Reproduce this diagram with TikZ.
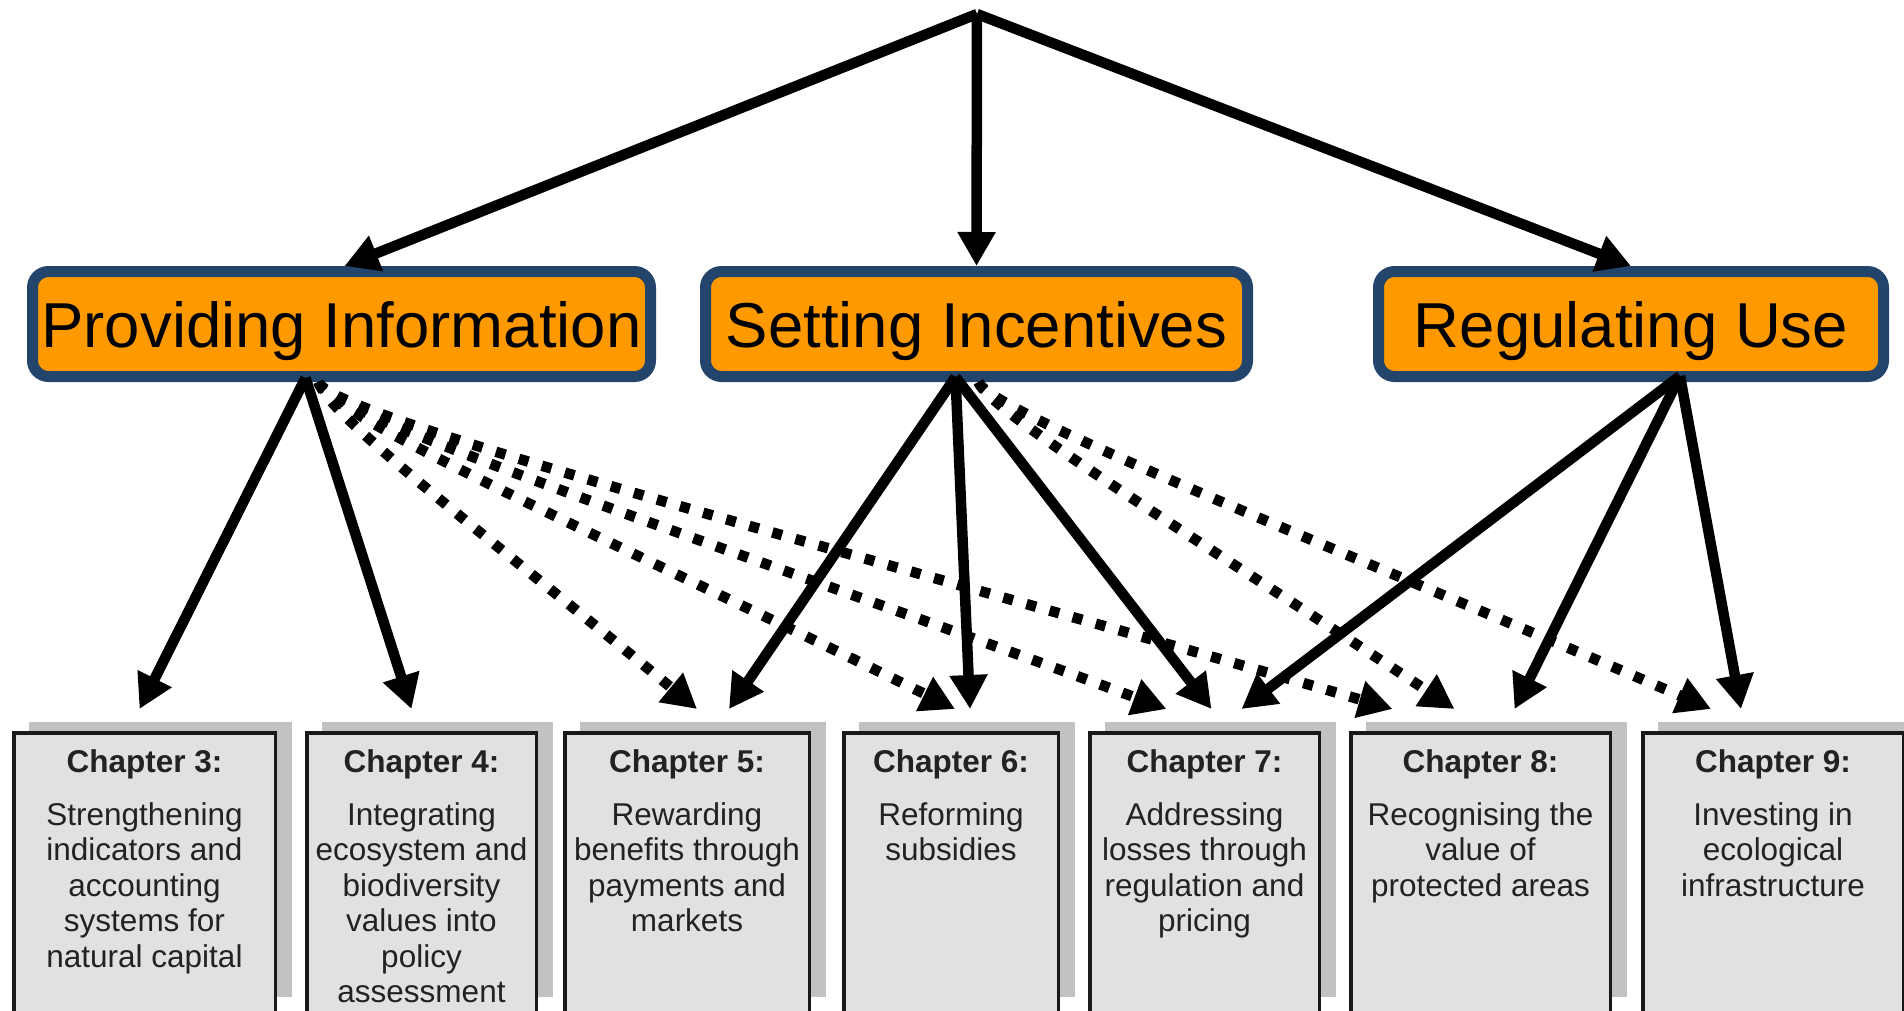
\documentclass[tikz,border=0pt]{standalone}
\usepackage{fontspec}
\setmainfont{Liberation Sans}
\usepackage{tikz}
\usetikzlibrary{positioning,arrows.meta,backgrounds}
\definecolor{leverorange}{HTML}{FF9900}
\definecolor{leverblue}{HTML}{23446B}
\definecolor{chapfill}{HTML}{E1E1E1}
\definecolor{chapshade}{HTML}{C2C2C2}
\definecolor{chapink}{HTML}{222222}
\tikzset{node distance=28pt,
  lever/.style={draw=leverblue, line width=11pt, fill=leverorange, rounded corners=16pt,
    minimum height=105pt, text height=46pt, text depth=0pt, inner sep=0pt,
    font=\fontsize{63.5}{70}\selectfont},
  chap/.style={draw=black!90, line width=3.5pt, fill=chapfill, minimum height=300pt,
    inner sep=0pt, anchor=north west},
  chaptxt/.style={anchor=north, align=center, inner sep=0pt, text=chapink,
    font=\fontsize{31.5}{35.5}\selectfont},
  strong/.style={line width=10.5pt, -{Triangle[length=34pt,width=36pt]}},
  weak/.style={strong, dash pattern=on 10pt off 14pt},
}
\begin{document}
\begin{tikzpicture}[x=1pt, y=-1pt]
\useasboundingbox (0,0) rectangle (1904,1010);

\coordinate (top) at (977,14);
\node[lever, minimum width=618pt] (PI) at (341.5,324) {Providing Information};
\node[lever, minimum width=542pt] (SI) at (976.5,324) {Setting Incentives};
\node[lever, minimum width=505pt] (RU) at (1631,324) {Regulating Use};

% chapter boxes
\node[chap, minimum width=261.5pt] (C3) at (12,731) {};
\node[chap, minimum width=229.5pt, right=of C3.north east, anchor=north west] (C4) {};
\node[chap, minimum width=244.5pt, right=25pt of C4.north east, anchor=north west] (C5) {};
\node[chap, minimum width=214.5pt, right=31pt of C5.north east, anchor=north west] (C6) {};
\node[chap, minimum width=229.5pt, right=of C6.north east, anchor=north west] (C7) {};
\node[chap, minimum width=259.5pt, right=of C7.north east, anchor=north west] (C8) {};
\node[chap, minimum width=260.5pt, right=29pt of C8.north east, anchor=north west] (C9) {};

\coordinate (floor) at (0,997);
\begin{scope}[on background layer]
  \foreach \c in {C3,C4,C5,C6,C7,C8,C9}
    \fill[chapshade] ([shift={(17,-9)}]\c.north west) rectangle ([xshift=15pt]\c.north east |- floor);
\end{scope}

\node[chaptxt] (T3) at ([yshift=-18pt]C3.north) {\textbf{Chapter 3:}\\[17.5pt]Strengthening\\indicators and\\accounting\\systems for\\natural capital};
\node[chaptxt] (T4) at ([yshift=-18pt]C4.north) {\textbf{Chapter 4:}\\[17.5pt]Integrating\\ecosystem and\\biodiversity\\values into\\policy\\assessment};
\node[chaptxt] (T5) at ([yshift=-18pt]C5.north) {\textbf{Chapter 5:}\\[17.5pt]Rewarding\\benefits through\\payments and\\markets};
\node[chaptxt] (T6) at ([yshift=-18pt]C6.north) {\textbf{Chapter 6:}\\[17.5pt]Reforming\\subsidies};
\node[chaptxt] (T7) at ([yshift=-18pt]C7.north) {\textbf{Chapter 7:}\\[17.5pt]Addressing\\losses through\\regulation and\\pricing};
\node[chaptxt] (T8) at ([yshift=-18pt]C8.north) {\textbf{Chapter 8:}\\[17.5pt]Recognising the\\value of\\protected areas};
\node[chaptxt] (T9) at ([yshift=-18pt]C9.north) {\textbf{Chapter 9:}\\[17.5pt]Investing in\\ecological\\infrastructure};

% where the arrows leave the three boxes
\coordinate (PIa) at ([shift={(-36,-4)}]PI.south);
\coordinate (PIb) at ([xshift=-23pt]PI.south);
\coordinate (SIa) at ([shift={(-21,-5)}]SI.south);
\coordinate (SIb) at ([xshift=2pt]SI.south);
\coordinate (RUa) at ([shift={(49,-6)}]RU.south);

\draw[strong] (top) to ([xshift=3pt]PI.north);
\draw[strong] (top) to (SI.north);
\draw[strong] (top) to (RU.north);

\draw[strong] (PIa) to ([shift={(-5,-22)}]C3.north);
\draw[strong] (PIa) to ([shift={(-10,-22)}]C4.north);
\draw[weak] (PIb) .. controls +(10,35) and +(-190,-157) .. ([shift={(10,-22)}]C5.north);
\draw[weak] (PIb) .. controls +(10,35) and +(-318,-157) .. ([shift={(4,-22)}]C6.north);
\draw[weak] (PIb) .. controls +(10,35) and +(-424,-157) .. ([shift={(-38,-22)}]C7.north);
\draw[weak] (PIb) .. controls +(10,35) and +(-537,-157) .. ([shift={(-88,-22)}]C8.north);

\draw[strong] (SIa) to ([shift={(42,-22)}]C5.north);
\draw[strong] (SIa) to ([shift={(19,-22)}]C6.north);
\draw[strong] (SIa) to ([shift={(7,-22)}]C7.north);
\draw[weak] (SIb) .. controls +(10,30) and +(-238,-158) .. ([shift={(-26,-22)}]C8.north);
\draw[weak] (SIb) .. controls +(10,30) and +(-366,-158) .. ([shift={(-62,-22)}]C9.north);

\draw[strong] (RUa) to ([shift={(37,-22)}]C7.north);
\draw[strong] (RUa) to ([shift={(34,-22)}]C8.north);
\draw[strong] (RUa) to ([shift={(-32,-22)}]C9.north);
\end{tikzpicture}
\end{document}
